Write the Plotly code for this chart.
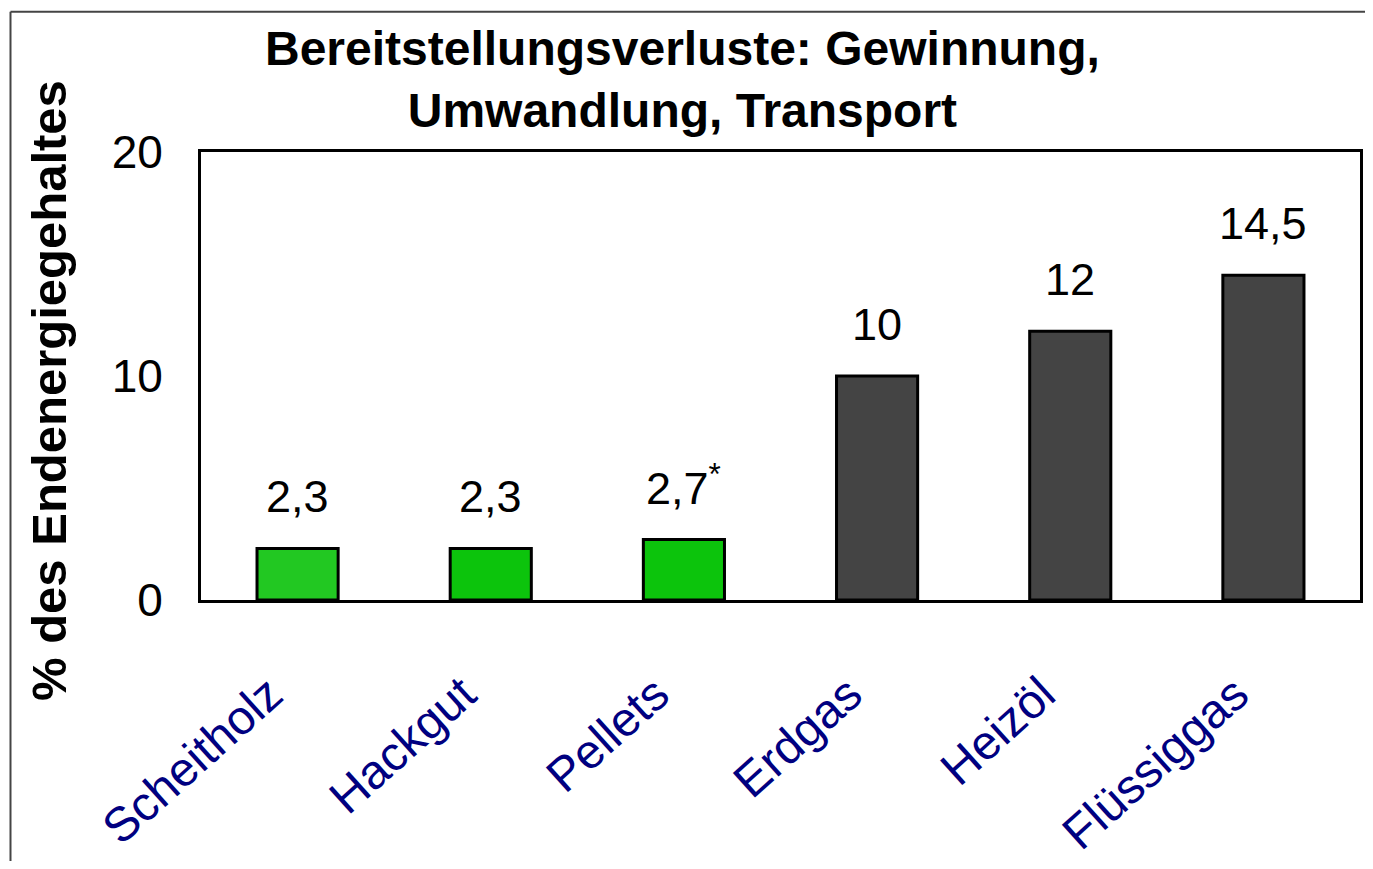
import plotly.graph_objects as go

categories = ["Scheitholz", "Hackgut", "Pellets", "Erdgas", "Heizöl", "Flüssiggas"]
values = [2.3, 2.3, 2.7, 10, 12, 14.5]
value_labels = ["2,3", "2,3", "2,7<sup>*</sup>", "10", "12", "14,5"]
bar_colors = ["#22c822", "#0cc40c", "#0cc40c", "#444444", "#444444", "#444444"]
y_ticks = [0, 10, 20]
title_text = "Bereitstellungsverluste: Gewinnung,<br>Umwandlung, Transport"
y_title = "% des Endenergiegehaltes"

OFF_X, OFF_Y = 8, 8  # page margin of the browser body
W, H = 1357, 853
L, R, T, B = 193, 2, 144, 249
pw, ph = W - L - R, H - T - B

def px(xs):
    return (xs - OFF_X - L) / pw

def py(ys):
    return (H - B - (ys - OFF_Y)) / ph

FONT = "Liberation Sans, Arial, sans-serif"

fig = go.Figure(go.Bar(
    x=categories, y=values,
    marker=dict(color=bar_colors, line=dict(color="black", width=3)),
    width=0.42,
))

for c, v, t in zip(categories, values, value_labels):
    fig.add_annotation(x=c, y=v, text=t, showarrow=False, yanchor="bottom",
                       yshift=24, font=dict(size=45, color="black", family=FONT))

fig.add_annotation(xref="paper", yref="paper", x=px(48), y=py(397), text="<b>" + y_title + "</b>",
                   textangle=-90, showarrow=False, xanchor="center", yanchor="middle",
                   font=dict(size=49, color="black", family=FONT))

fig.add_annotation(xref="paper", yref="paper", x=px(684), y=py(16), text="<b>" + title_text + "</b>",
                   showarrow=False, xanchor="center", yanchor="top", align="center",
                   font=dict(size=48, color="black", family=FONT))

# outer frame (top and left edges)
fig.add_shape(type="line", xref="paper", yref="paper", x0=px(10), x1=px(1390), y0=py(8), y1=py(8),
              line=dict(color="#444444", width=2))
fig.add_shape(type="line", xref="paper", yref="paper", x0=px(10), x1=px(10), y0=py(8), y1=py(880),
              line=dict(color="#444444", width=2))

fig.update_layout(
    width=W, height=H,
    margin=dict(l=L, r=R, t=T, b=B),
    paper_bgcolor="white", plot_bgcolor="white",
    showlegend=False,
    xaxis=dict(showline=True, linecolor="black", linewidth=3, mirror=True,
               tickangle=-42, ticks="outside", ticklen=44, tickcolor="rgba(0,0,0,0)",
               ticklabelshift=-28,
               tickfont=dict(size=48, color="#000080", family=FONT), showgrid=False),
    yaxis=dict(range=[0, 20], tickvals=y_ticks, showline=True, linecolor="black", linewidth=3,
               mirror=True, showgrid=False, zeroline=False, ticks="outside", ticklen=26,
               tickcolor="rgba(0,0,0,0)", tickfont=dict(size=46, color="black", family=FONT)),
)

fig.write_html("out.html")
